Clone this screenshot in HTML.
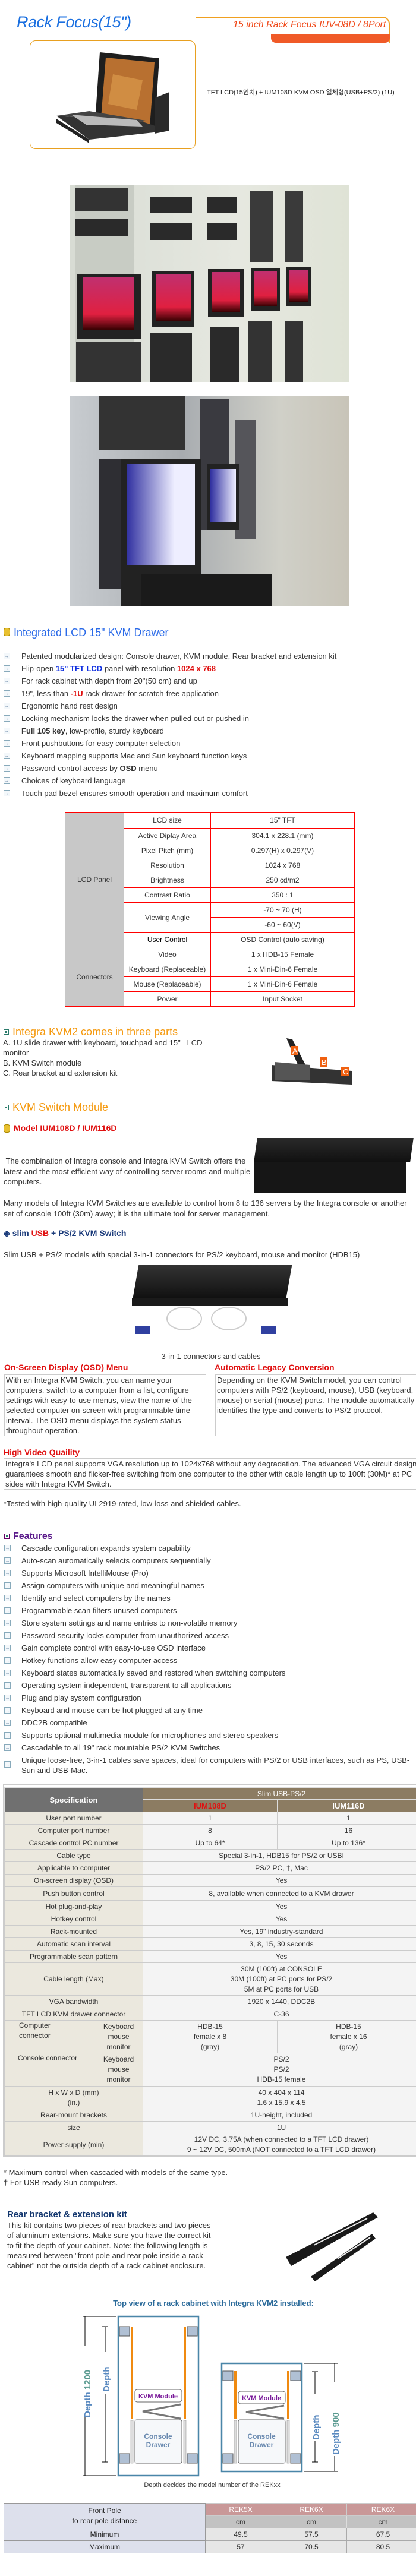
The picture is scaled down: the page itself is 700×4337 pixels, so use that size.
<!DOCTYPE html>
<html><head><meta charset="utf-8">
<style>
*{margin:0;padding:0;box-sizing:border-box}
body{width:700px;height:4337px;position:relative;background:#fff;font-family:"Liberation Sans","Noto Sans CJK KR",sans-serif;color:#333;overflow:hidden}
.a{position:absolute;white-space:nowrap}
.b{position:absolute;font-size:13px;line-height:16px;color:#333}
.ic{position:absolute;width:11px;height:11px;border:1px solid #8ab;background:#f4f8fb;font-size:8px;line-height:9px;text-align:center;color:#579}
.li{position:absolute;left:36px;font-size:13px;line-height:16px;white-space:nowrap;color:#333}
.h{position:absolute;white-space:nowrap;font-size:17px;line-height:20px}
.sq{position:absolute;width:9px;height:9px;border:1px solid #2a7a6a;background:#fff}
.sq:after{content:"";position:absolute;left:2px;top:2px;width:3px;height:3px;background:#2a7a6a}
table{border-collapse:collapse;position:absolute}
td{text-align:center;padding:0;font-size:12px;color:#333}
</style></head><body>

<!-- header -->
<div class="a" style="left:28px;top:22px;font-size:27px;font-style:italic;color:#1a6fe0;letter-spacing:-0.5px">Rack Focus(15")</div>
<div class="a" style="left:330px;top:28px;width:326px;height:44px;border-top:2px solid #f0a020;border-right:2px solid #f0a020;border-top-right-radius:12px"></div>
<div class="a" style="left:392px;top:33px;font-size:16px;font-style:italic;color:#f04818">15 inch Rack Focus IUV-08D / 8Port</div>
<div class="a" style="left:456px;top:57px;width:200px;height:15px;background:#f05a28;border-bottom-left-radius:8px;border-bottom-right-radius:8px"></div>
<div class="a" style="left:50px;top:68px;width:279px;height:183px;border:1px solid #e8a020;border-radius:10px"></div>
<svg class="a" style="left:90px;top:85px" width="210" height="160">
<polygon points="78,3 178,13 170,137 70,120" fill="#1e1e1e"/>
<polygon points="88,12 170,20 162,128 80,114" fill="#b87030"/>
<polygon points="100,40 150,50 140,100 92,90" fill="#e0a050" opacity=".6"/>
<polygon points="5,110 150,120 195,135 60,150" fill="#333"/>
<polygon points="5,110 60,102 155,118 150,120" fill="#444"/>
<polygon points="30,108 140,117 150,128 55,125" fill="#bbb"/>
<polygon points="5,115 60,150 60,156 5,122" fill="#222"/>
<polygon points="170,80 195,70 195,135 170,140" fill="#2a2a2a"/>
</svg>
<div class="a" style="left:348px;top:147px;font-size:11px;color:#222">TFT LCD(15인치) + IUM108D KVM OSD 일체형(USB+PS/2) (1U)</div>
<div class="a" style="left:345px;top:249px;width:310px;height:1px;background:#e8a020"></div>

<!-- photos -->
<div class="a" style="left:118px;top:311px;width:470px;height:332px;background:linear-gradient(90deg,#d8dcd4,#e6e8e0 60%,#dfe3d6)">
 <div class="a" style="left:8px;top:0;width:100px;height:332px;background:#c8ccc4"></div>
 <div class="a" style="left:8px;top:5px;width:90px;height:40px;background:#333"></div>
 <div class="a" style="left:8px;top:58px;width:90px;height:28px;background:#2a2a2a"></div>
 <div class="a" style="left:135px;top:20px;width:70px;height:28px;background:#2a2a2a"></div>
 <div class="a" style="left:135px;top:65px;width:70px;height:28px;background:#2a2a2a"></div>
 <div class="a" style="left:230px;top:20px;width:50px;height:28px;background:#2a2a2a"></div>
 <div class="a" style="left:230px;top:65px;width:50px;height:28px;background:#2a2a2a"></div>
 <div class="a" style="left:302px;top:10px;width:40px;height:120px;background:#3a3a3a"></div>
 <div class="a" style="left:362px;top:10px;width:30px;height:120px;background:#3a3a3a"></div>
 <div class="a" style="left:12px;top:150px;width:108px;height:110px;background:#222"></div>
 <div class="a" style="left:22px;top:155px;width:85px;height:90px;background:linear-gradient(#c03070,#e02040 70%,#300)"></div>
 <div class="a" style="left:138px;top:145px;width:70px;height:95px;background:#222"></div>
 <div class="a" style="left:145px;top:150px;width:58px;height:80px;background:linear-gradient(#c03070,#e02040 70%,#300)"></div>
 <div class="a" style="left:232px;top:142px;width:60px;height:80px;background:#222"></div>
 <div class="a" style="left:238px;top:147px;width:48px;height:68px;background:linear-gradient(#c03070,#e02040 70%,#300)"></div>
 <div class="a" style="left:305px;top:140px;width:48px;height:72px;background:#222"></div>
 <div class="a" style="left:310px;top:145px;width:38px;height:60px;background:linear-gradient(#c03070,#e02040 70%,#300)"></div>
 <div class="a" style="left:363px;top:138px;width:42px;height:66px;background:#222"></div>
 <div class="a" style="left:368px;top:143px;width:32px;height:54px;background:linear-gradient(#c03070,#e02040 70%,#300)"></div>
 <div class="a" style="left:10px;top:265px;width:110px;height:67px;background:#333"></div>
 <div class="a" style="left:135px;top:250px;width:70px;height:82px;background:#2a2a2a"></div>
 <div class="a" style="left:235px;top:240px;width:50px;height:92px;background:#2a2a2a"></div>
 <div class="a" style="left:300px;top:230px;width:40px;height:102px;background:#333"></div>
 <div class="a" style="left:362px;top:230px;width:30px;height:102px;background:#333"></div>
</div>
<div class="a" style="left:118px;top:667px;width:470px;height:353px;background:linear-gradient(90deg,#c8ccd0,#a8acb0 40%,#d0d0c8 75%,#c8c4b8)">
 <div class="a" style="left:48px;top:0;width:145px;height:90px;background:#333"></div>
 <div class="a" style="left:48px;top:105px;width:40px;height:220px;background:#2e2e33"></div>
 <div class="a" style="left:218px;top:5px;width:50px;height:220px;background:#3a3a40"></div>
 <div class="a" style="left:278px;top:40px;width:35px;height:200px;background:#55555a"></div>
 <div class="a" style="left:85px;top:105px;width:135px;height:248px;background:#222"></div>
 <div class="a" style="left:95px;top:115px;width:115px;height:170px;background:linear-gradient(90deg,#3030a0,#eef 70%)"></div>
 <div class="a" style="left:230px;top:115px;width:55px;height:110px;background:#222"></div>
 <div class="a" style="left:236px;top:122px;width:43px;height:90px;background:linear-gradient(90deg,#3030a0,#eef)"></div>
 <div class="a" style="left:120px;top:300px;width:220px;height:53px;background:#1a1a1a"></div>
</div>

<!-- Integrated LCD -->
<div class="a" style="left:6px;top:1057px;width:11px;height:14px;background:#e8c030;border-radius:4px;border:1px solid #a80"></div>
<div class="h" style="left:23px;top:1055px;color:#2a6ae8;font-size:18px">Integrated LCD 15" KVM Drawer</div>

<div class="ic" style="left:6px;top:1099px">→</div><div class="li" style="top:1097px">Patented modularized design: Console drawer, KVM module, Rear bracket and extension kit</div>
<div class="ic" style="left:6px;top:1120px">→</div><div class="li" style="top:1118px">Flip-open <b style="color:#1030e0">15" TFT LCD</b> panel with resolution <b style="color:#e01010">1024 x 768</b></div>
<div class="ic" style="left:6px;top:1141px">→</div><div class="li" style="top:1139px">For rack cabinet with depth from 20"(50 cm) and up</div>
<div class="ic" style="left:6px;top:1162px">→</div><div class="li" style="top:1160px">19", less-than <b style="color:#e01010">-1U</b> rack drawer for scratch-free application</div>
<div class="ic" style="left:6px;top:1183px">→</div><div class="li" style="top:1181px">Ergonomic hand rest design</div>
<div class="ic" style="left:6px;top:1204px">→</div><div class="li" style="top:1202px">Locking mechanism locks the drawer when pulled out or pushed in</div>
<div class="ic" style="left:6px;top:1225px">→</div><div class="li" style="top:1223px"><b>Full 105 key</b>, low-profile, sturdy keyboard</div>
<div class="ic" style="left:6px;top:1246px">→</div><div class="li" style="top:1244px">Front pushbuttons for easy computer selection</div>
<div class="ic" style="left:6px;top:1267px">→</div><div class="li" style="top:1265px">Keyboard mapping supports Mac and Sun keyboard function keys</div>
<div class="ic" style="left:6px;top:1288px">→</div><div class="li" style="top:1286px">Password-control access by <b>OSD</b> menu</div>
<div class="ic" style="left:6px;top:1309px">→</div><div class="li" style="top:1307px">Choices of keyboard language</div>
<div class="ic" style="left:6px;top:1330px">→</div><div class="li" style="top:1328px">Touch pad bezel ensures smooth operation and maximum comfort</div>

<table style="left:109px;top:1367px;width:488px">
<colgroup><col style="width:99px"><col style="width:146px"><col></colgroup>
<tr style="height:27px"><td rowspan="9" style="background:#c8c8c8;border:1px solid #f00">LCD Panel</td><td style="border:1px solid #f00">LCD size</td><td style="border:1px solid #f00">15" TFT</td></tr>
<tr style="height:25px"><td style="border:1px solid #f00">Active Diplay Area</td><td style="border:1px solid #f00">304.1 x 228.1 (mm)</td></tr>
<tr style="height:25px"><td style="border:1px solid #f00">Pixel Pitch (mm)</td><td style="border:1px solid #f00">0.297(H) x 0.297(V)</td></tr>
<tr style="height:25px"><td style="border:1px solid #f00">Resolution</td><td style="border:1px solid #f00">1024 x 768</td></tr>
<tr style="height:25px"><td style="border:1px solid #f00">Brightness</td><td style="border:1px solid #f00">250 cd/m2</td></tr>
<tr style="height:25px"><td style="border:1px solid #f00">Contrast Ratio</td><td style="border:1px solid #f00">350 : 1</td></tr>
<tr style="height:25px"><td rowspan="2" style="border:1px solid #f00">Viewing Angle</td><td style="border:1px solid #f00">-70 ~ 70 (H)</td></tr>
<tr style="height:25px"><td style="border:1px solid #f00">-60 ~ 60(V)</td></tr>
<tr style="height:25px"><td style="border:1px solid #f00;color:#000">User Control</td><td style="border:1px solid #f00">OSD Control (auto saving)</td></tr>
<tr style="height:25px"><td rowspan="4" style="background:#c8c8c8;border:1px solid #f00">Connectors</td><td style="border:1px solid #f00">Video</td><td style="border:1px solid #f00">1 x HDB-15 Female</td></tr>
<tr style="height:25px"><td style="border:1px solid #f00">Keyboard (Replaceable)</td><td style="border:1px solid #f00">1 x Mini-Din-6 Female</td></tr>
<tr style="height:25px"><td style="border:1px solid #f00">Mouse (Replaceable)</td><td style="border:1px solid #f00">1 x Mini-Din-6 Female</td></tr>
<tr style="height:25px"><td style="border:1px solid #f00">Power</td><td style="border:1px solid #f00">Input Socket</td></tr>
</table>

<!-- Integra KVM2 -->
<div class="sq" style="left:6px;top:1733px"></div>
<div class="h" style="left:21px;top:1727px;color:#f59a10;font-size:18px">Integra KVM2 comes in three parts</div>
<div class="b" style="left:5px;top:1747px;width:340px;line-height:17px">A. 1U slide drawer with keyboard, touchpad and 15" &nbsp;&nbsp;LCD monitor<br>B. KVM Switch module<br>C. Rear bracket and extension kit</div>
<svg class="a" style="left:452px;top:1748px" width="145" height="82">
<polygon points="30,0 40,2 75,70 60,70" fill="#222"/>
<polygon points="5,45 140,55 140,78 5,72" fill="#333"/>
<polygon points="10,40 70,45 70,70 10,70" fill="#555"/>
<rect x="37" y="13" width="13" height="16" fill="#f06010"/><text x="40" y="26" fill="#fff" font-size="13" font-family="Liberation Sans">A</text>
<rect x="86" y="32" width="13" height="16" fill="#f06010"/><text x="89" y="45" fill="#fff" font-size="13" font-family="Liberation Sans">B</text>
<rect x="122" y="48" width="13" height="16" fill="#f06010"/><text x="125" y="61" fill="#fff" font-size="13" font-family="Liberation Sans">C</text>
</svg>
<div class="sq" style="left:6px;top:1860px"></div>
<div class="h" style="left:21px;top:1854px;color:#f59a10;font-size:18px">KVM Switch Module</div>

<div class="a" style="left:6px;top:1893px;width:11px;height:14px;background:#e8c030;border-radius:4px;border:1px solid #a80"></div>
<div class="a" style="left:23px;top:1891px;font-size:14px;font-weight:bold;color:#e01010">Model IUM108D / IUM116D</div>
<div class="b" style="left:6px;top:1946px;width:420px;line-height:17.5px">&nbsp;The combination of Integra console and Integra KVM Switch offers the latest and the most efficient way of controlling server rooms and multiple computers.</div>
<div class="a" style="left:430px;top:1916px;width:263px;height:40px;background:linear-gradient(#2a2a2a,#111);transform:skewX(-8deg)"></div>
<div class="a" style="left:428px;top:1957px;width:255px;height:52px;background:#161616"></div>
<div class="b" style="left:6px;top:2017px;width:694px;line-height:17.5px">Many models of Integra KVM Switches are available to control from 8 to 136 servers by the Integra console or another set of console 100ft (30m) away; it is the ultimate tool for server management.</div>
<div class="a" style="left:6px;top:2068px;font-size:14px;font-weight:bold;color:#1a3a7a">◈ slim <span style="color:#e01010">USB</span> + PS/2 KVM Switch</div>
<div class="b" style="left:6px;top:2105px;white-space:nowrap">Slim USB + PS/2 models with special 3-in-1 connectors for PS/2 keyboard, mouse and monitor (HDB15)</div>
<div class="a" style="left:228px;top:2130px;width:258px;height:60px;background:linear-gradient(#333,#0e0e0e);transform:skewX(-10deg)"></div>
<div class="a" style="left:222px;top:2185px;width:262px;height:14px;background:#1a1a1a"></div>
<div class="a" style="left:280px;top:2200px;width:60px;height:40px;border:2px solid #ccc;border-radius:50%"></div>
<div class="a" style="left:355px;top:2200px;width:60px;height:40px;border:2px solid #ccc;border-radius:50%"></div>
<div class="a" style="left:228px;top:2232px;width:25px;height:14px;background:#3040a0"></div>
<div class="a" style="left:440px;top:2232px;width:25px;height:14px;background:#3040a0"></div>
<div class="a" style="left:0;top:2276px;width:710px;text-align:center;font-size:13px;color:#333">3-in-1 connectors and cables</div>

<div class="a" style="left:7px;top:2294px;font-size:14px;font-weight:bold;color:#e01010">On-Screen Display (OSD) Menu</div>
<div class="a" style="left:361px;top:2294px;font-size:14px;font-weight:bold;color:#e01010">Automatic Legacy Conversion</div>
<div class="b" style="left:7px;top:2314px;width:340px;height:104px;border:1px solid #ccc;padding:0 2px;line-height:17px">With an Integra KVM Switch, you can name your computers, switch to a computer from a list, configure settings with easy-to-use menus, view the name of the selected computer on-screen with programmable time interval. The OSD menu displays the system status throughout operation.</div>
<div class="b" style="left:362px;top:2314px;width:345px;height:104px;border:1px solid #ccc;padding:0 2px;line-height:17px">Depending on the KVM Switch model, you can control computers with PS/2 (keyboard, mouse), USB (keyboard, mouse) or serial (mouse) ports. The module automatically identifies the type and converts to PS/2 protocol.</div>

<div class="a" style="left:6px;top:2437px;font-size:14px;font-weight:bold;color:#e01010">High Video Quaility</div>
<div class="b" style="left:6px;top:2455px;width:700px;height:53px;border:1px solid #ccc;padding:0 2px;line-height:17px">Integra's LCD panel supports VGA resolution up to 1024x768 without any degradation. The advanced VGA circuit design guarantees smooth and flicker-free switching from one computer to the other with cable length up to 100ft (30M)* at PC sides with Integra KVM Switch.</div>
<div class="b" style="left:6px;top:2524px">*Tested with high-quality UL2919-rated, low-loss and shielded cables.</div>

<div class="sq" style="left:7px;top:2582px;border-color:#606;"></div>
<div class="a" style="left:22px;top:2578px;font-size:16px;font-weight:bold;color:#5a1a8a">Features</div>

<div class="ic" style="left:7px;top:2601px">→</div><div class="li" style="top:2599px">Cascade configuration expands system capability</div>
<div class="ic" style="left:7px;top:2622px">→</div><div class="li" style="top:2620px">Auto-scan automatically selects computers sequentially</div>
<div class="ic" style="left:7px;top:2643px">→</div><div class="li" style="top:2641px">Supports Microsoft IntelliMouse (Pro)</div>
<div class="ic" style="left:7px;top:2664px">→</div><div class="li" style="top:2662px">Assign computers with unique and meaningful names</div>
<div class="ic" style="left:7px;top:2685px">→</div><div class="li" style="top:2683px">Identify and select computers by the names</div>
<div class="ic" style="left:7px;top:2706px">→</div><div class="li" style="top:2704px">Programmable scan filters unused computers</div>
<div class="ic" style="left:7px;top:2727px">→</div><div class="li" style="top:2725px">Store system settings and name entries to non-volatile memory</div>
<div class="ic" style="left:7px;top:2748px">→</div><div class="li" style="top:2746px">Password security locks computer from unauthorized access</div>
<div class="ic" style="left:7px;top:2769px">→</div><div class="li" style="top:2767px">Gain complete control with easy-to-use OSD interface</div>
<div class="ic" style="left:7px;top:2790px">→</div><div class="li" style="top:2788px">Hotkey functions allow easy computer access</div>
<div class="ic" style="left:7px;top:2811px">→</div><div class="li" style="top:2809px">Keyboard states automatically saved and restored when switching computers</div>
<div class="ic" style="left:7px;top:2832px">→</div><div class="li" style="top:2830px">Operating system independent, transparent to all applications</div>
<div class="ic" style="left:7px;top:2853px">→</div><div class="li" style="top:2851px">Plug and play system configuration</div>
<div class="ic" style="left:7px;top:2874px">→</div><div class="li" style="top:2872px">Keyboard and mouse can be hot plugged at any time</div>
<div class="ic" style="left:7px;top:2895px">→</div><div class="li" style="top:2893px">DDC2B compatible</div>
<div class="ic" style="left:7px;top:2916px">→</div><div class="li" style="top:2914px">Supports optional multimedia module for microphones and stereo speakers</div>
<div class="ic" style="left:7px;top:2937px">→</div><div class="li" style="top:2935px">Cascadable to all 19" rack mountable PS/2 KVM Switches</div>
<div class="ic" style="left:7px;top:2965px">→</div><div class="li" style="top:2955px;white-space:normal;width:660px;line-height:17px">Unique loose-free, 3-in-1 cables save spaces, ideal for computers with PS/2 or USB interfaces, such as PS, USB-Sun and USB-Mac.</div>

<!-- spec table -->
<div class="a" style="left:5px;top:3004px;width:700px;height:627px;border:1px solid #ccc;border-right:none"></div>
<table style="left:7px;top:3009px;width:700px;border-spacing:0">
<colgroup><col style="width:151px"><col style="width:82px"><col style="width:226px"><col></colgroup>
<tr style="height:20px"><td colspan="2" rowspan="2" style="background:#707070;color:#fff;font-weight:bold;font-size:13px;border:1px solid #ddd">Specification</td><td colspan="2" style="background:#8c7c62;color:#fff;border:1px solid #ddd">Slim USB-PS/2</td></tr>
<tr style="height:21px"><td style="background:#8c7c62;color:#e01010;font-weight:bold;font-size:13px;border:1px solid #ddd">IUM108D</td><td style="background:#8c7c62;color:#fff;font-weight:bold;font-size:13px;border:1px solid #ddd">IUM116D</td></tr>
<tbody style="font-size:12px">
<tr style="height:21px"><td colspan="2" style="background:#ebe8de;border:1px solid #ccc">User port number</td><td style="background:#f4f4f4;border:1px solid #ccc">1</td><td style="background:#f4f4f4;border:1px solid #ccc">1</td></tr>
<tr style="height:21px"><td colspan="2" style="background:#ebe8de;border:1px solid #ccc">Computer port number</td><td style="background:#f4f4f4;border:1px solid #ccc">8</td><td style="background:#f4f4f4;border:1px solid #ccc">16</td></tr>
<tr style="height:21px"><td colspan="2" style="background:#ebe8de;border:1px solid #ccc">Cascade control PC number</td><td style="background:#f4f4f4;border:1px solid #ccc">Up to 64*</td><td style="background:#f4f4f4;border:1px solid #ccc">Up to 136*</td></tr>
<tr style="height:21px"><td colspan="2" style="background:#ebe8de;border:1px solid #ccc">Cable type</td><td colspan="2" style="background:#f4f4f4;border:1px solid #ccc">Special 3-in-1, HDB15 for PS/2 or USBI</td></tr>
<tr style="height:21px"><td colspan="2" style="background:#ebe8de;border:1px solid #ccc">Applicable to computer</td><td colspan="2" style="background:#f4f4f4;border:1px solid #ccc">PS/2 PC, †, Mac</td></tr>
<tr style="height:21px"><td colspan="2" style="background:#ebe8de;border:1px solid #ccc">On-screen display (OSD)</td><td colspan="2" style="background:#f4f4f4;border:1px solid #ccc">Yes</td></tr>
<tr style="height:23px"><td colspan="2" style="background:#ebe8de;border:1px solid #ccc">Push button control</td><td colspan="2" style="background:#f4f4f4;border:1px solid #ccc">8, available when connected to a KVM drawer</td></tr>
<tr style="height:21px"><td colspan="2" style="background:#ebe8de;border:1px solid #ccc">Hot plug-and-play</td><td colspan="2" style="background:#f4f4f4;border:1px solid #ccc">Yes</td></tr>
<tr style="height:21px"><td colspan="2" style="background:#ebe8de;border:1px solid #ccc">Hotkey control</td><td colspan="2" style="background:#f4f4f4;border:1px solid #ccc">Yes</td></tr>
<tr style="height:21px"><td colspan="2" style="background:#ebe8de;border:1px solid #ccc">Rack-mounted</td><td colspan="2" style="background:#f4f4f4;border:1px solid #ccc">Yes, 19" industry-standard</td></tr>
<tr style="height:21px"><td colspan="2" style="background:#ebe8de;border:1px solid #ccc">Automatic scan interval</td><td colspan="2" style="background:#f4f4f4;border:1px solid #ccc">3, 8, 15, 30 seconds</td></tr>
<tr style="height:21px"><td colspan="2" style="background:#ebe8de;border:1px solid #ccc">Programmable scan pattern</td><td colspan="2" style="background:#f4f4f4;border:1px solid #ccc">Yes</td></tr>
<tr style="height:55px"><td colspan="2" style="background:#ebe8de;border:1px solid #ccc">Cable length (Max)</td><td colspan="2" style="background:#f4f4f4;border:1px solid #ccc;line-height:17px">30M (100ft) at CONSOLE<br>30M (100ft) at PC ports for PS/2<br>5M at PC ports for USB</td></tr>
<tr style="height:21px"><td colspan="2" style="background:#ebe8de;border:1px solid #ccc">VGA bandwidth</td><td colspan="2" style="background:#f4f4f4;border:1px solid #ccc">1920 x 1440, DDC2B</td></tr>
<tr style="height:21px"><td colspan="2" style="background:#ebe8de;border:1px solid #ccc">TFT LCD KVM drawer connector</td><td colspan="2" style="background:#f4f4f4;border:1px solid #ccc">C-36</td></tr>
<tr style="height:55px"><td style="background:#ebe8de;border:1px solid #ccc;vertical-align:top;text-align:left;padding-left:24px;line-height:17px">Computer<br>connector</td><td style="background:#ebe8de;border:1px solid #ccc;line-height:17px">Keyboard<br>mouse<br>monitor</td><td style="background:#f4f4f4;border:1px solid #ccc;line-height:17px">HDB-15<br>female x 8<br>(gray)</td><td style="background:#f4f4f4;border:1px solid #ccc;line-height:17px">HDB-15<br>female x 16<br>(gray)</td></tr>
<tr style="height:56px"><td style="background:#ebe8de;border:1px solid #ccc;vertical-align:top;text-align:left;padding-left:22px;line-height:17px">Console connector</td><td style="background:#ebe8de;border:1px solid #ccc;line-height:17px">Keyboard<br>mouse<br>monitor</td><td colspan="2" style="background:#f4f4f4;border:1px solid #ccc;line-height:17px">PS/2<br>PS/2<br>HDB-15 female</td></tr>
<tr style="height:38px"><td colspan="2" style="background:#ebe8de;border:1px solid #ccc;line-height:17px">H x W x D (mm)<br>(in.)</td><td colspan="2" style="background:#f4f4f4;border:1px solid #ccc;line-height:17px">40 x 404 x 114<br>1.6 x 15.9 x 4.5</td></tr>
<tr style="height:21px"><td colspan="2" style="background:#ebe8de;border:1px solid #ccc">Rear-mount brackets</td><td colspan="2" style="background:#f4f4f4;border:1px solid #ccc">1U-height, included</td></tr>
<tr style="height:21px"><td colspan="2" style="background:#ebe8de;border:1px solid #ccc">size</td><td colspan="2" style="background:#f4f4f4;border:1px solid #ccc">1U</td></tr>
<tr style="height:37px"><td colspan="2" style="background:#ebe8de;border:1px solid #ccc">Power supply (min)</td><td colspan="2" style="background:#f4f4f4;border:1px solid #ccc;line-height:17px">12V DC, 3.75A (when connected to a TFT LCD drawer)<br>9 ~ 12V DC, 500mA (NOT connected to a TFT LCD drawer)</td></tr>
</tbody></table>

<div class="b" style="left:6px;top:3649px;line-height:17px">* Maximum control when cascaded with models of the same type.<br>† For USB-ready Sun computers.</div>

<div class="a" style="left:12px;top:3720px;font-size:15px;font-weight:bold;color:#12366e">Rear bracket &amp; extension kit</div>
<div class="b" style="left:12px;top:3738px;width:355px;line-height:17px">This kit contains two pieces of rear brackets and two pieces of aluminum extensions. Make sure you have the correct kit to fit the depth of your cabinet. Note: the following length is measured between "front pole and rear pole inside a rack cabinet" not the outside depth of a rack cabinet enclosure.</div>
<svg class="a" style="left:478px;top:3725px" width="160" height="118">
<polygon points="3,75 150,0 158,8 12,90" fill="#1a1a1a"/>
<polygon points="45,108 148,36 154,44 52,116" fill="#1a1a1a"/>
<line x1="50" y1="55" x2="140" y2="10" stroke="#eee" stroke-width="2"/>
<line x1="90" y1="78" x2="145" y2="42" stroke="#eee" stroke-width="2"/>
</svg>

<div class="a" style="left:0;top:3870px;width:718px;text-align:center;font-size:13px;font-weight:bold;color:#2a6a9a">Top view of a rack cabinet with Integra KVM2 installed:</div>

<svg class="a" style="left:0;top:3890px" width="700" height="310" font-family="Liberation Sans" font-weight="bold">
<rect x="199" y="10" width="135" height="268" fill="#fff" stroke="#4a86a8" stroke-width="2.5"/>
<rect x="201" y="27" width="17" height="16" fill="#b0c0d4" stroke="#555"/>
<rect x="315" y="27" width="17" height="16" fill="#b0c0d4" stroke="#555"/>
<rect x="220" y="28" width="4" height="154" fill="#f08a10"/>
<rect x="309" y="28" width="4" height="154" fill="#f08a10"/>
<rect x="201" y="241" width="17" height="16" fill="#b0c0d4" stroke="#555"/>
<rect x="315" y="241" width="17" height="16" fill="#b0c0d4" stroke="#555"/>
<rect x="220" y="185" width="4" height="72" fill="#ddd" stroke="#888" stroke-width=".5"/>
<rect x="309" y="185" width="4" height="72" fill="#ddd" stroke="#888" stroke-width=".5"/>
<rect x="227" y="133" width="79" height="21" rx="4" fill="#fff" stroke="#666"/>
<text x="266" y="148" font-size="11" fill="#7a1a9a" text-anchor="middle">KVM Module</text>
<polyline points="304,158 240,170 304,182" fill="none" stroke="#777" stroke-width="3"/>
<rect x="227" y="184" width="79" height="73" rx="3" fill="#f6f8fa" stroke="#666"/>
<text x="266" y="216" font-size="12" fill="#6a8ab0" text-anchor="middle">Console</text>
<text x="266" y="230" font-size="12" fill="#6a8ab0" text-anchor="middle">Drawer</text>
<line x1="139" y1="10" x2="195" y2="10" stroke="#000"/>
<line x1="139" y1="278" x2="195" y2="278" stroke="#000"/>
<line x1="143" y1="10" x2="143" y2="278" stroke="#000"/>
<line x1="172" y1="27" x2="182" y2="27" stroke="#000"/>
<line x1="172" y1="255" x2="182" y2="255" stroke="#000"/>
<line x1="177" y1="27" x2="177" y2="255" stroke="#000"/>
<rect x="133" y="60" width="20" height="120" fill="#fff"/>
<rect x="167" y="70" width="20" height="70" fill="#fff"/>
<text transform="translate(152,180) rotate(-90)" font-size="15" fill="#5a8ac0">Depth <tspan fill="#5a9a90">1200</tspan></text>
<text transform="translate(184,137) rotate(-90)" font-size="15" fill="#5a8ac0">Depth</text>
<rect x="373" y="89" width="135" height="182" fill="#fff" stroke="#4a86a8" stroke-width="2.5"/>
<rect x="375" y="102" width="17" height="16" fill="#b0c0d4" stroke="#555"/>
<rect x="489" y="102" width="17" height="16" fill="#b0c0d4" stroke="#555"/>
<rect x="394" y="102" width="4" height="80" fill="#f08a10"/>
<rect x="483" y="102" width="4" height="80" fill="#f08a10"/>
<rect x="375" y="241" width="17" height="16" fill="#b0c0d4" stroke="#555"/>
<rect x="489" y="241" width="17" height="16" fill="#b0c0d4" stroke="#555"/>
<rect x="394" y="185" width="4" height="72" fill="#ddd" stroke="#888" stroke-width=".5"/>
<rect x="483" y="185" width="4" height="72" fill="#ddd" stroke="#888" stroke-width=".5"/>
<rect x="401" y="136" width="79" height="21" rx="4" fill="#fff" stroke="#666"/>
<text x="440" y="151" font-size="11" fill="#7a1a9a" text-anchor="middle">KVM Module</text>
<polyline points="478,160 414,171 478,182" fill="none" stroke="#777" stroke-width="3"/>
<rect x="401" y="184" width="79" height="73" rx="3" fill="#f6f8fa" stroke="#666"/>
<text x="440" y="216" font-size="12" fill="#6a8ab0" text-anchor="middle">Console</text>
<text x="440" y="230" font-size="12" fill="#6a8ab0" text-anchor="middle">Drawer</text>
<line x1="512" y1="89" x2="568" y2="89" stroke="#000"/>
<line x1="512" y1="271" x2="568" y2="271" stroke="#000"/>
<line x1="563" y1="89" x2="563" y2="271" stroke="#000"/>
<line x1="525" y1="103" x2="535" y2="103" stroke="#000"/>
<line x1="525" y1="255" x2="535" y2="255" stroke="#000"/>
<line x1="530" y1="103" x2="530" y2="255" stroke="#000"/>
<rect x="520" y="140" width="20" height="80" fill="#fff"/>
<rect x="553" y="120" width="20" height="125" fill="#fff"/>
<text transform="translate(537,218) rotate(-90)" font-size="15" fill="#5a8ac0">Depth</text>
<text transform="translate(570,243) rotate(-90)" font-size="15" fill="#5a8ac0">Depth <tspan fill="#5a9a90">900</tspan></text>
<text x="357" y="297" font-size="11" font-weight="normal" fill="#333" text-anchor="middle">Depth decides the model number of the REKxx</text>
</svg>

<table style="left:6px;top:4214px;width:700px;border:1px solid #999">
<colgroup><col style="width:339px"><col style="width:119px"><col style="width:119px"><col></colgroup>
<tr style="height:21px"><td rowspan="2" style="background:#dde0ec;border:1px solid #999;color:#222;line-height:17px">Front Pole<br>to rear pole distance</td><td style="background:#c99898;color:#fff;border:1px solid #ccc">REK5X</td><td style="background:#c99898;color:#fff;border:1px solid #ccc">REK6X</td><td style="background:#c99898;color:#fff;border:1px solid #ccc">REK6X</td></tr>
<tr style="height:21px"><td style="background:#c2c2c2;border:1px solid #ddd">cm</td><td style="background:#c2c2c2;border:1px solid #ddd">cm</td><td style="background:#c2c2c2;border:1px solid #ddd">cm</td></tr>
<tr style="height:21px"><td style="background:#dde0ec;border:1px solid #999;color:#222">Minimum</td><td style="background:#e6e6e6;border:1px solid #aaa">49.5</td><td style="background:#e6e6e6;border:1px solid #aaa">57.5</td><td style="background:#e6e6e6;border:1px solid #aaa">67.5</td></tr>
<tr style="height:21px"><td style="background:#dde0ec;border:1px solid #999;color:#222">Maximum</td><td style="background:#e6e6e6;border:1px solid #aaa">57</td><td style="background:#e6e6e6;border:1px solid #aaa">70.5</td><td style="background:#e6e6e6;border:1px solid #aaa">80.5</td></tr>
</table>
</body></html>
